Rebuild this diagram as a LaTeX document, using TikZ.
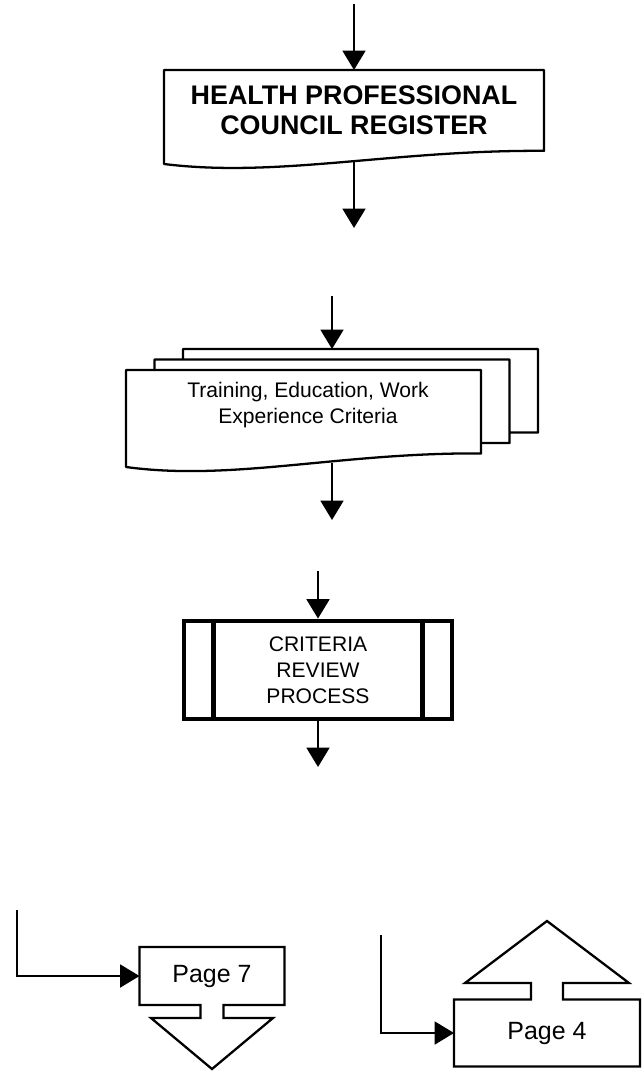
\documentclass[tikz,border=0pt]{standalone}
\usepackage{fontspec}
\setmainfont{Liberation Sans}
\usetikzlibrary{arrows.meta, calc}

% document shape: left, top, width, height (wavy bottom)
\newcommand{\docshape}[4]{%
  \draw[docline] (#1,#2) -- (#1+#3,#2) -- (#1+#3,#2+0.86*#4)
    .. controls (#1+0.6*#3,#2+0.85*#4) and (#1+0.3*#3,#2+1.15*#4) .. (#1,#2+#4) -- cycle;}

\begin{document}
\begin{tikzpicture}[x=0.02cm, y=-0.02cm,
    flow/.style={line width=1.2pt, -{Triangle[width=13pt,length=11pt]}},
    docline/.style={line width=1.3pt, fill=white, line join=round},
    outline/.style={line width=1.3pt, line join=miter},
    shapebox/.style={inner sep=0pt, outer sep=0pt},
    boldtext/.style={align=center, font=\fontsize{15.3}{17}\selectfont\bfseries},
    plaintext/.style={align=center, font=\fontsize{12}{14.8}\selectfont},
    pagetext/.style={font=\fontsize{14.2}{16}\selectfont},
    procbox/.style={draw, line width=2.8pt, minimum width=5.36cm, minimum height=1.96cm,
      inner sep=0pt, plaintext}]
  \useasboundingbox (0,0) rectangle (642,1072);

  % register
  \docshape{164}{70}{380}{94}
  \node[shapebox, minimum width=7.6cm, minimum height=1.82cm,
    label={[boldtext, yshift=0.11cm]center:{HEALTH PROFESSIONAL\\COUNCIL REGISTER}}] (hpc) at (354,115.5) {};
  \coordinate (hpc-in) at (354,4);
  \coordinate (hpc-out) at (354,228);
  \draw[flow] (hpc-in) -- (hpc.north);
  \draw[flow] (hpc.south) -- (hpc-out);

  % criteria documents
  \foreach \lx/\ty in {183/349, 154.5/359.5, 126/370}
    {\docshape{\lx}{\ty}{355}{97}}
  \node[shapebox, minimum width=8.24cm, minimum height=2.28cm,
    label={[plaintext, xshift=-0.48cm, yshift=0.02cm]center:{Training, Education, Work\\Experience Criteria}}] (tew) at (332,406) {};
  \coordinate (tew-in) at (332,296);
  \coordinate (tew-out) at (332,520);
  \draw[flow] (tew-in) -- (tew.north);
  \draw[flow] (tew.south) -- (tew-out);

  % review process
  \node[procbox] (crp) at (318,670) {CRITERIA\\REVIEW\\PROCESS};
  \draw[line width=2.8pt] ($(crp.north west)+(32,0)$) -- ($(crp.south west)+(32,0)$);
  \draw[line width=2.8pt] ($(crp.north east)+(-32,0)$) -- ($(crp.south east)+(-32,0)$);
  \coordinate (crp-in) at (318,571);
  \coordinate (crp-out) at (318,767);
  \draw[flow] (crp-in) -- (crp.north);
  \draw[flow] (crp.south) -- (crp-out);

  % off-page references
  \draw[outline] (200.5,1005) -- (139.5,1005) -- (139.5,947) -- (284.5,947) -- (284.5,1005)
    -- (223.5,1005) -- (223.5,1018) -- (273,1018) -- (212,1069) -- (151,1018) -- (200.5,1018) -- cycle;
  \node[shapebox, pagetext, minimum width=2.9cm, minimum height=1.16cm] (pg7) at (212,976) {Page 7};
  \coordinate (pg7-in) at (17,910);
  \draw[flow] (pg7-in) |- (pg7.west);

  \draw[outline] (531,999.5) -- (454,999.5) -- (454,1066.5) -- (640,1066.5) -- (640,999.5)
    -- (563,999.5) -- (563,983) -- (629,983) -- (547,921) -- (465,983) -- (531,983) -- cycle;
  \node[shapebox, pagetext, minimum width=3.72cm, minimum height=1.34cm] (pg4) at (547,1033) {Page 4};
  \coordinate (pg4-in) at (381,935);
  \draw[flow] (pg4-in) |- (pg4.west);
\end{tikzpicture}
\end{document}
